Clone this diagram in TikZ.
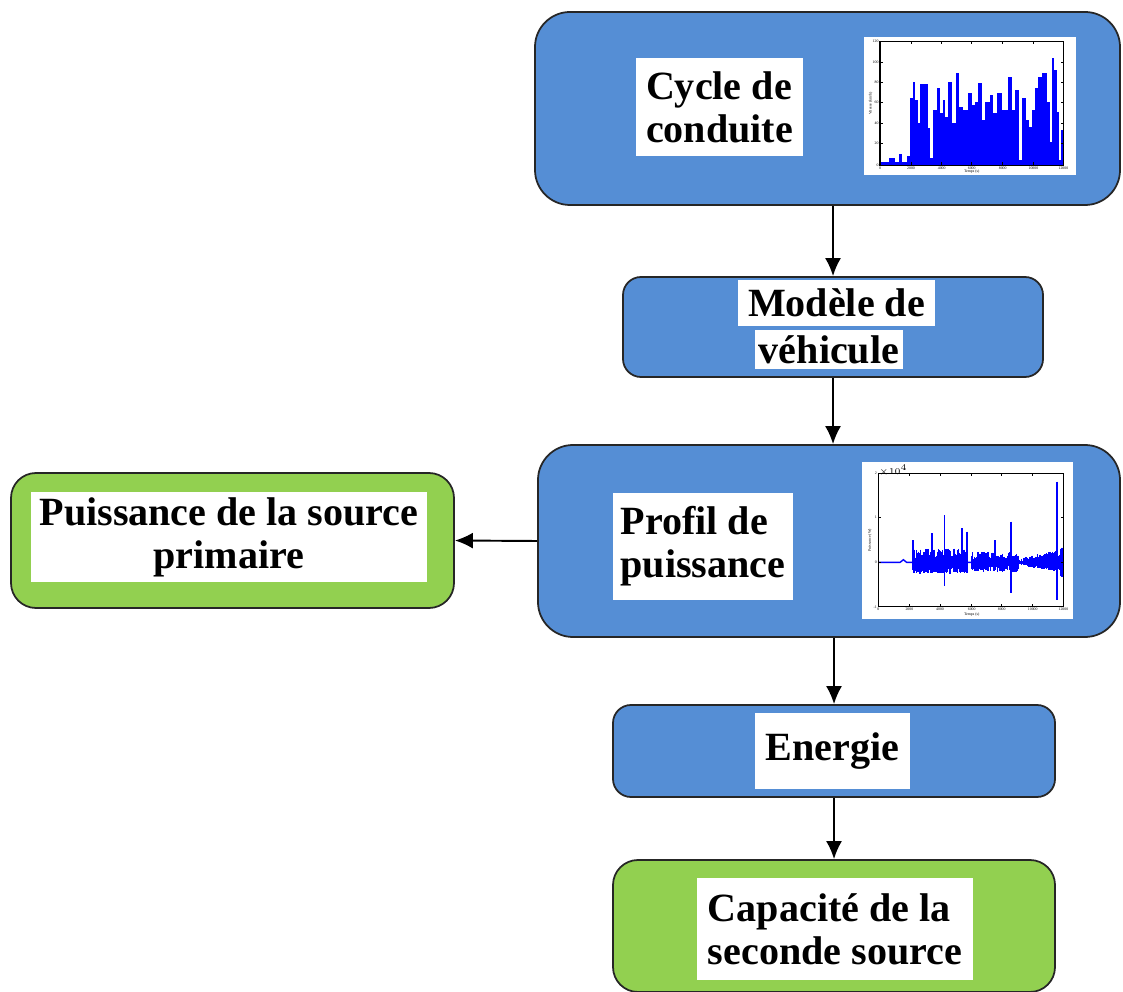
\documentclass[tikz,border=0pt]{standalone}
\usepackage{fontspec}
\setmainfont{Liberation Serif}
\usetikzlibrary{arrows.meta}
\definecolor{boxblue}{RGB}{85,142,213}
\definecolor{boxgreen}{RGB}{146,208,80}
\begin{document}
\begin{tikzpicture}[x=0.2mm,y=-0.2mm,
  >={Latex[length=3.6mm,width=3.2mm]},
  block/.style={draw=black!85, line width=1pt, inner sep=0pt, fill=boxblue},
  result/.style={block, fill=boxgreen},
  txtbox/.style={fill=white, inner sep=0pt, font=\fontsize{22.8}{24.5}\selectfont\bfseries},
  flow/.style={->, line width=1.1pt},
  noise/.style={blue, line width=0.8pt},
  tick/.style={inner sep=0.3pt, font=\fontsize{2.2}{2.5}\selectfont}]
  \useasboundingbox (0,0) rectangle (1123,992);
  \clip (0,0) rectangle (1123,992);
  % blocks
  \node[block, rounded corners=0.7cm, minimum width=11.7cm, minimum height=3.86cm] (cycle) at (827.5,108.5) {};
  \node[block, rounded corners=0.36cm, minimum width=8.4cm, minimum height=2cm] (modele) at (833,327) {};
  \node[block, rounded corners=0.7cm, minimum width=11.64cm, minimum height=3.84cm] (profil) at (829,541) {};
  \node[result, rounded corners=0.5cm, minimum width=8.86cm, minimum height=2.7cm] (source) at (232.5,540.5) {};
  \node[block, rounded corners=0.36cm, minimum width=8.84cm, minimum height=1.84cm] (energie) at (834,751) {};
  \node[result, rounded corners=0.5cm, minimum width=8.84cm, minimum height=2.64cm] (capacite) at (834,926) {};
  % texts
  \node[txtbox, minimum width=3.34cm, minimum height=1.96cm, align=left] (cycletxt) at (719.5,107) {Cycle de\\conduite};
  \node[txtbox, minimum width=3.94cm, minimum height=0.92cm] (modeletxta) at (836.5,303) {Modèle de};
  \node[txtbox, minimum width=2.96cm, minimum height=0.78cm] (modeletxtb) at (829,349.5) {véhicule};
  \node[txtbox, minimum width=3.6cm, minimum height=2.14cm, align=left] (profiltxt) at (703,546.5) {Profil de\\puissance};
  \node[txtbox, minimum width=7.92cm, minimum height=1.8cm, align=center] (sourcetxt) at (229,537) {Puissance de la source\\primaire};
  \node[txtbox, minimum width=3.1cm, minimum height=1.52cm] (energietxt) at (832.5,751) {Energie};
  \node[txtbox, minimum width=5.52cm, minimum height=2.04cm, align=left] (capacitetxt) at (835,929) {Capacité de la\\seconde source};
  % driving cycle plot
  \begin{scope}[shift={(850,30)}, x=0.0667mm, y=-0.0667mm]
    \fill[white] (42,22) rectangle (678,435);
    \foreach \xa/\xb/\h in {90/180/395, 118/135/385, 148/156/372, 170/180/378,
      180/190/205, 190/196/155, 196/203/210, 203/210/280, 210/233/162, 233/240/295,
      240/248/385, 248/262/240, 262/270/175, 270/278/250, 278/285/210, 285/295/260,
      295/305/155, 305/318/280, 318/328/128, 328/340/230, 340/355/240, 355/365/190,
      365/375/225, 375/385/215, 385/395/160, 395/405/270, 405/420/215, 420/430/195,
      430/440/250, 440/455/190, 455/475/240, 475/485/140, 485/495/240, 495/508/180,
      508/515/390, 515/528/205, 528/538/270, 538/545/290, 545/555/240, 555/565/175,
      565/575/140, 575/590/128, 590/600/215, 600/605/335, 605/612/85, 612/620/120,
      620/628/245, 628/632/390, 632/640/300}
      \fill[blue] (\xa,405) rectangle (\xb,\h);
    \draw[line width=0.6pt] (90,35) rectangle (640,405);
    \foreach \x in {183,275,365,458,550} {
      \draw (\x,35) -- (\x,43);
      \draw (\x,405) -- (\x,397);
    }
    \foreach \y in {97,157,218,280,340} {
      \draw (90,\y) -- (98,\y);
      \draw (640,\y) -- (632,\y);
    }
    \foreach \x/\t in {90/0,183/2000,275/4000,365/6000,458/8000,550/10000,640/12000}
      \node[tick, below] (cxl\x) at (\x,407) {\t};
    \foreach \y/\t in {35/120,97/100,157/80,218/60,280/40,340/20,405/0}
      \node[tick, left] (cyl\y) at (88,\y) {\t};
    \node[tick, rotate=90] (cylab) at (62,220) {Vitesse (km/h)};
    \node[tick] (cxlab) at (365,425) {Temps (s)};
  \end{scope}
  % power profile plot
  \begin{scope}[shift={(850,455)}, x=0.0667mm, y=-0.0667mm]
    \fill[white] (35,22) rectangle (668,492);
    \draw[noise] (85,322) -- (150,322) -- (160,314) -- (170,322) -- (640,322);
    \pgfmathsetseed{12}
    \foreach \t in {188,190,...,352} {
      \pgfmathsetmacro\up{12+30*rnd}
      \pgfmathsetmacro\dn{10+24*rnd}
      \draw[noise] (\t,322-\up) -- (\t,322+\dn);
    }
    \foreach \t in {366,368,...,505} {
      \pgfmathsetmacro\up{8+24*rnd}
      \pgfmathsetmacro\dn{8+20*rnd}
      \draw[noise] (\t,322-\up) -- (\t,322+\dn);
    }
    \foreach \t in {508,510,...,520} {
      \pgfmathsetmacro\up{3+6*rnd}
      \draw[noise] (\t,322-\up) -- (\t,322+\up);
    }
    \foreach \t in {522,524,...,616} {
      \pgfmathsetmacro\up{6+(\t-522)/5+10*rnd}
      \pgfmathsetmacro\dn{5+(\t-522)/7+8*rnd}
      \draw[noise] (\t,322-\up) -- (\t,322+\dn);
    }
    \foreach \t in {626,628,...,638} {
      \pgfmathsetmacro\up{15+30*rnd}
      \draw[noise] (\t,322-\up) -- (\t,322+\up);
    }
    \foreach \t/\a/\b in {190/255/345, 245/235/355, 283/180/392, 335/220/350,
      350/230/355, 435/255/345, 482/200/415, 620/80/435}
      \draw[noise, line width=1pt] (\t,\a) -- (\t,\b);
    \draw[line width=0.6pt] (85,55) rectangle (640,455);
    \foreach \x in {178,270,365,455,548} {
      \draw (\x,55) -- (\x,63);
      \draw (\x,455) -- (\x,447);
    }
    \foreach \y in {188,322} {
      \draw (85,\y) -- (93,\y);
      \draw (640,\y) -- (632,\y);
    }
    \foreach \x/\t in {85/0,178/2000,270/4000,365/6000,455/8000,548/10000,640/12000}
      \node[tick, below] (pxl\x) at (\x,457) {\t};
    \foreach \y/\t in {55/2,188/1,322/0,455/-1}
      \node[tick, left] (pyl\y) at (83,\y) {\t};
    \node[tick, right] (pexp) at (85,47) {$\times 10^4$};
    \node[tick, rotate=90] (pylab) at (60,255) {Puissance (W)};
    \node[tick] (pxlab) at (365,478) {Temps (s)};
  \end{scope}
  % connectors
  \draw[flow] (modele.north |- cycle.south) -- (modele.north);
  \draw[flow] (modele.south) -- (modele.south |- profil.north);
  \draw[flow] (energie.north |- profil.south) -- (energie.north);
  \draw[flow] (energie.south) -- (capacite.north);
  \draw[flow] (profil.west) -- (source.east);
\end{tikzpicture}
\end{document}
